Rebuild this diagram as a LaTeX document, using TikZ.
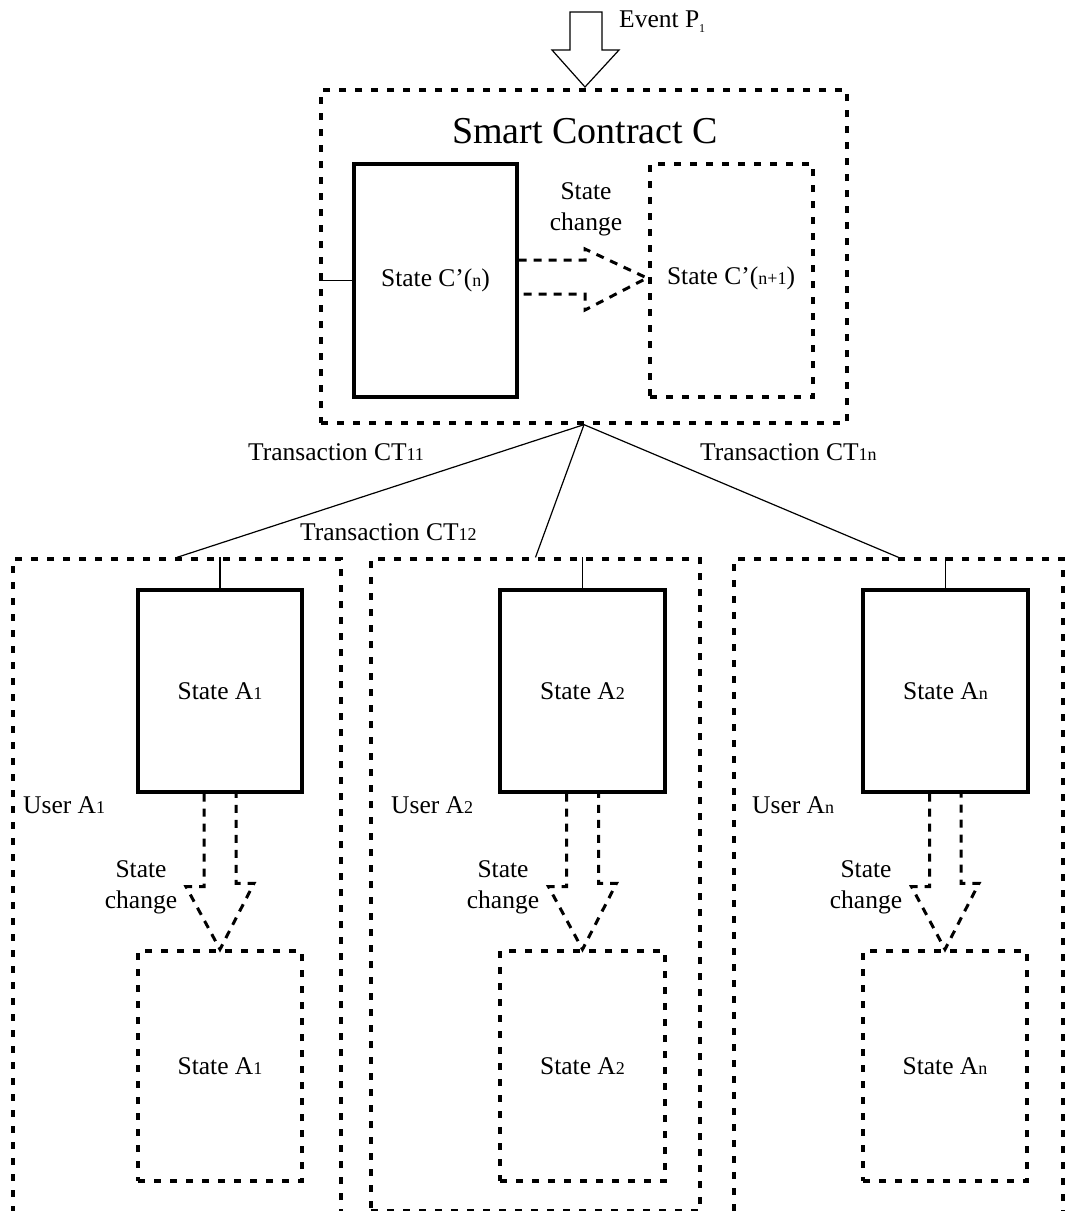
\documentclass[tikz,border=0pt]{standalone}
\usepackage{fontspec}
\setmainfont{Liberation Serif}
% smaller index figures used after state and transaction names
\newcommand{\idx}[1]{{\fontsize{18}{18}\selectfont #1}}
\begin{document}
\begin{tikzpicture}[x=1pt,y=-1pt,
  every node/.style={font=\fontsize{25.5}{31}\selectfont, inner sep=0pt},
  dotbox/.style={rectangle, draw, line width=3.3pt, dash pattern=on 7pt off 9pt},
  statebox/.style={rectangle, draw, line width=3.3pt},
  link/.style={line width=1.2pt},
  chg/.style={line width=3pt, dash pattern=on 8pt off 7pt},
  lbl/.style={anchor=base west}]
\path[use as bounding box] (0,0) rectangle (1066,1211);
\clip (0,0) rectangle (1066,1211);

% incoming event
\draw[link, line join=miter] (570,12) -- (602,12) -- (602,50) -- (619,50) -- (585,87)
  -- (552,50) -- (570,50) -- cycle;
\node[lbl] (ev) at (619,27) {Event P\raisebox{-5pt}{\fontsize{12}{12}\selectfont 1}};

% smart contract and its two states
\node[dotbox, minimum width=526pt, minimum height=333pt] (contract) at (584,256.5) {};
\node[anchor=base] (title) at (585,143) {\fontsize{38}{44}\selectfont Smart Contract C};
\node[statebox, minimum width=163pt, minimum height=233pt] (cn) at (435.5,280.5) {State C’(\idx{n})};
\node[dotbox, minimum width=163pt, minimum height=233pt] (cn1) at (731.5,280.5) {};
\node (cn1t) at (731,278) {State C’(\idx{n+1})};
\draw[link] (cn.west -| contract.west) -- (cn.west);

\draw[chg] (cn.east |- 0,260) -- (585,260) -- (585,249) -- (647,278) -- (585,310)
  -- (585,294) -- (cn.east |- 0,294);
\node[align=center] (cnchg) at (586,209) {State\\change};

% users
\node[dotbox, minimum width=328pt, minimum height=681pt] (user1) at (177,899.5) {};
\node[dotbox, minimum width=329pt, minimum height=652pt] (user2) at (535.5,885) {};
\node[dotbox, minimum width=329pt, minimum height=681pt] (user3) at (898.5,899.5) {};

\node[statebox, minimum width=164pt, minimum height=202pt] (sa1) at (220,691) {State A\idx{1}};
\node[statebox, minimum width=165pt, minimum height=202pt] (sa2) at (582.5,691) {State A\idx{2}};
\node[statebox, minimum width=165pt, minimum height=202pt] (sa3) at (945.5,691) {State A\idx{n}};

\node[dotbox, minimum width=164pt, minimum height=230pt] (sb1) at (220,1066) {State A\idx{1}};
\node[dotbox, minimum width=165pt, minimum height=230pt] (sb2) at (582.5,1066) {State A\idx{2}};
\node[dotbox, minimum width=164pt, minimum height=230pt] (sb3) at (945,1066) {State A\idx{n}};

\node[lbl] (u1) at (23,813) {User A\idx{1}};
\node[lbl] (u2) at (391,813) {User A\idx{2}};
\node[lbl] (u3) at (752,813) {User A\idx{n}};

% each user's state change, from the old state down to the new one
\foreach \i in {1,2,3} {
  \draw[link] (sa\i.north) -- (sa\i.north |- user\i.north);
  \draw[chg] ([xshift=-16pt]sa\i.south) -- ++(0,93) -- ++(-18,0) -- (sb\i.north)
    -- ++(34,-66) -- ++(-18,0) -- ++(0,-93);
}
\node[align=center] (c1) at (141,887) {State\\change};
\node[align=center] (c2) at (503,887) {State\\change};
\node[align=center] (c3) at (866,887) {State\\change};

% transactions
\draw[link] (contract.south) -- (user1.north);
\draw[link] (contract.south) -- (user2.north);
\draw[link] (contract.south) -- (user3.north);
\node[lbl] (t11) at (248,460) {Transaction CT\idx{11}};
\node[lbl] (t12) at (300,540) {Transaction CT\idx{12}};
\node[lbl] (t1n) at (700,460) {Transaction CT\idx{1n}};
\end{tikzpicture}
\end{document}
